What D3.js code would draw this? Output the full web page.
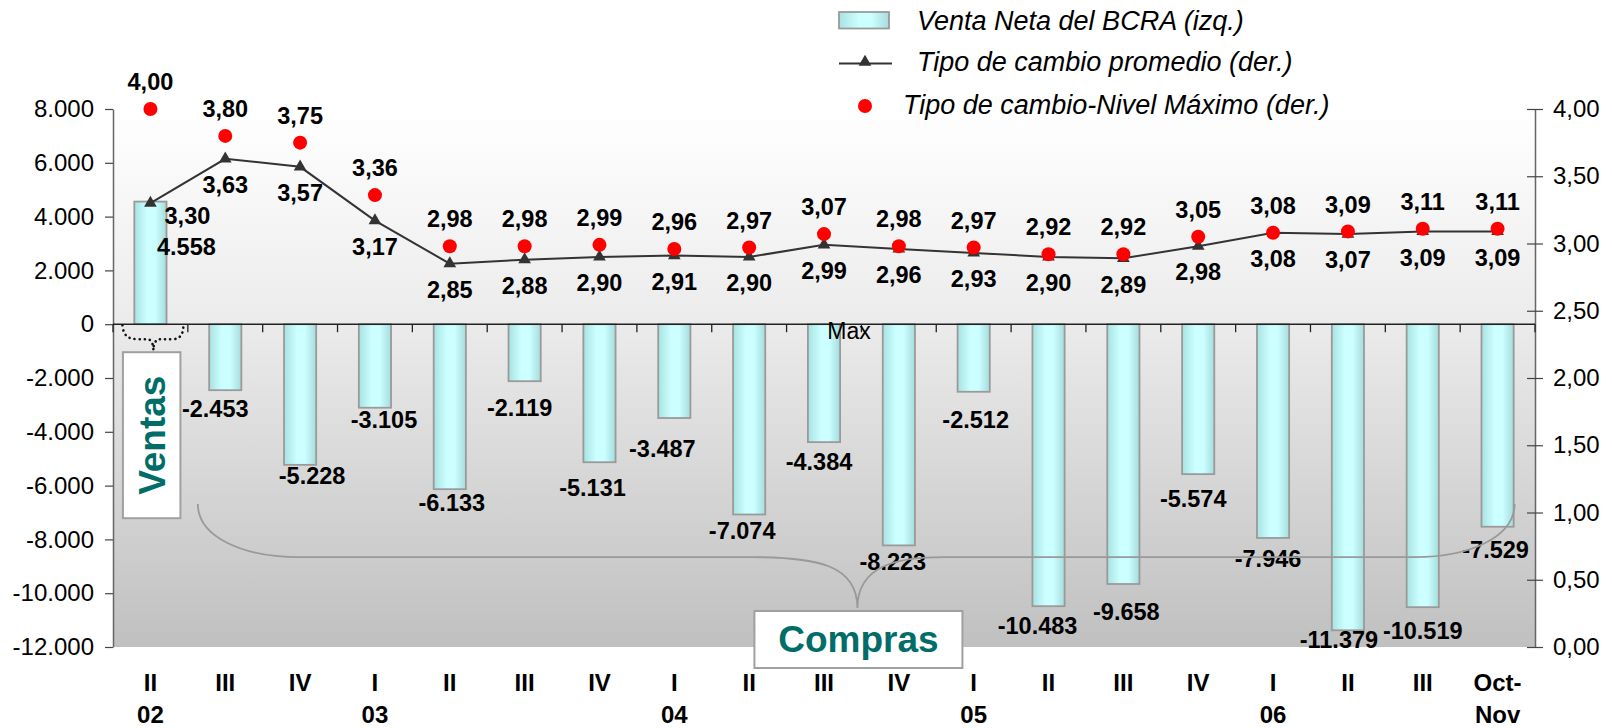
<!DOCTYPE html>
<html>
<head>
<meta charset="utf-8">
<script src="https://cdnjs.cloudflare.com/ajax/libs/d3/7.8.5/d3.min.js"></script>
<style>
  body { margin: 0; background: #fff; }
  svg { display: block; font-family: "Liberation Sans", Arial, sans-serif; }
</style>
</head>
<body>
<svg id="chart" width="1612" height="728"></svg>
<script>
// trimestres y años
const categories = ["II", "III", "IV", "I", "II", "III", "IV", "I", "II", "III", "IV", "I", "II", "III", "IV", "I", "II", "III", "Oct-"];
const yearLabels = ["02", "", "", "03", "", "", "", "04", "", "", "", "05", "", "", "", "06", "", "", "Nov"];

// Venta neta del BCRA (millones US$, eje izq.)
const ventaNeta = [4558, -2453, -5228, -3105, -6133, -2119, -5131, -3487, -7074, -4384, -8223, -2512, -10483, -9658, -5574, -7946, -11379, -10519, -7529];
// tipo de cambio promedio y máximo (eje der.)
const tcPromedio = [3.30, 3.63, 3.57, 3.17, 2.85, 2.88, 2.90, 2.91, 2.90, 2.99, 2.96, 2.93, 2.90, 2.89, 2.98, 3.08, 3.07, 3.09, 3.09];
const tcMaximo = [4.00, 3.80, 3.75, 3.36, 2.98, 2.98, 2.99, 2.96, 2.97, 3.07, 2.98, 2.97, 2.92, 2.92, 3.05, 3.08, 3.09, 3.11, 3.11];

const leftTicks = [-12000, -10000, -8000, -6000, -4000, -2000, 0, 2000, 4000, 6000, 8000];
const rightTicks = [0, 0.5, 1, 1.5, 2, 2.5, 3, 3.5, 4];

const legendItems = ["Venta Neta del BCRA (izq.)", "Tipo de cambio promedio (der.)", "Tipo de cambio-Nivel Máximo (der.)"];

// pequeños ajustes de las etiquetas de barras [dx, dy]
const barLabelNudge = [[36, 45], [-10, 19], [12, 11], [9, 12], [2, 14], [-5, 27], [-7, 26], [-12, 31], [-7, 16], [-5, 20],
  [-6, 16], [2, 28], [-11, 20], [3, 28], [-5, 25], [-5, 21], [-9, 9], [0, 24], [-2, 23]];

const locale = d3.formatLocale({ decimal: ",", thousands: ".", grouping: [3], currency: ["$", ""], minus: "-" });
const fmtMiles = locale.format(",d");
const fmtTc = locale.format(".2f");

const svg = d3.select("#chart");
const plotLeft = 113, plotRight = 1535, plotTop = 109, plotBottom = 647;

const x = d3.scaleBand().domain(d3.range(categories.length)).range([plotLeft, plotRight]).padding(0);
const yL = d3.scaleLinear().domain([-12000, 8000]).range([plotBottom, plotTop]);
const yR = d3.scaleLinear().domain([0, 4]).range([plotBottom, plotTop]);
const cx = i => x(i) + x.bandwidth() / 2;
const barW = x.bandwidth() * 0.43;

const defs = svg.append("defs");
const bg = defs.append("linearGradient").attr("id", "bg").attr("x1", 0).attr("y1", 0).attr("x2", 0).attr("y2", 1);
bg.append("stop").attr("offset", "0%").attr("stop-color", "#ffffff");
bg.append("stop").attr("offset", "40%").attr("stop-color", "#ebebeb");
bg.append("stop").attr("offset", "100%").attr("stop-color", "#c0c0c0");

const barGrad = defs.append("linearGradient").attr("id", "barGrad").attr("x1", 0).attr("y1", 0).attr("x2", 1).attr("y2", 0);
barGrad.append("stop").attr("offset", "0%").attr("stop-color", "#a8e2e2");
barGrad.append("stop").attr("offset", "40%").attr("stop-color", "#ccffff");
barGrad.append("stop").attr("offset", "65%").attr("stop-color", "#ccffff");
barGrad.append("stop").attr("offset", "100%").attr("stop-color", "#a6dcdc");

// fondo del área de gráfico
svg.append("rect")
  .attr("x", plotLeft).attr("y", plotTop)
  .attr("width", plotRight - plotLeft).attr("height", plotBottom - plotTop)
  .attr("fill", "url(#bg)");

// barras
svg.append("g").selectAll("rect")
  .data(ventaNeta)
  .join("rect")
  .attr("x", (d, i) => cx(i) - barW / 2)
  .attr("y", d => yL(Math.max(0, d)))
  .attr("width", barW)
  .attr("height", d => Math.abs(yL(d) - yL(0)))
  .attr("fill", "url(#barGrad)")
  .attr("stroke", "#9a9a9a")
  .attr("stroke-width", 1.8);

// eje izquierdo
const axL = svg.append("g")
  .attr("transform", `translate(${plotLeft},0)`)
  .call(d3.axisLeft(yL).tickValues(leftTicks).tickFormat(fmtMiles).tickSize(8).tickSizeOuter(0).tickPadding(11));
axL.select(".domain").attr("stroke", "#666").attr("stroke-width", 1.5);
axL.selectAll(".tick line").attr("stroke", "#444").attr("stroke-width", 1.2);
axL.selectAll(".tick text").attr("font-size", 24).attr("fill", "#000")
  .attr("font-family", "'Liberation Sans', Arial, sans-serif");

// eje derecho
const axR = svg.append("g")
  .attr("transform", `translate(${plotRight},0)`)
  .call(d3.axisRight(yR).tickValues(rightTicks).tickFormat(fmtTc).tickSize(8).tickSizeOuter(0).tickPadding(10));
axR.select(".domain").attr("stroke", "#666").attr("stroke-width", 1.5);
axR.selectAll(".tick line").attr("x1", -8).attr("stroke", "#444").attr("stroke-width", 1.2);
axR.selectAll(".tick text").attr("font-size", 24).attr("fill", "#000")
  .attr("font-family", "'Liberation Sans', Arial, sans-serif");

// línea del cero con marcas entre categorías
const y0 = yL(0);
svg.append("line")
  .attr("x1", plotLeft).attr("x2", plotRight).attr("y1", y0).attr("y2", y0)
  .attr("stroke", "#222").attr("stroke-width", 1.5);
svg.append("g").selectAll("line")
  .data(d3.range(categories.length + 1))
  .join("line")
  .attr("x1", i => plotLeft + i * x.step()).attr("x2", i => plotLeft + i * x.step())
  .attr("y1", y0).attr("y2", y0 + 8)
  .attr("stroke", "#222").attr("stroke-width", 1.3);

// etiquetas de categorías
const catG = svg.append("g").attr("font-size", 24).attr("font-weight", "bold").attr("text-anchor", "middle");
catG.selectAll("text.q")
  .data(categories)
  .join("text")
  .attr("class", "q")
  .attr("x", (d, i) => cx(i))
  .attr("y", 683).attr("dy", "0.35em")
  .text(d => d);
catG.selectAll("text.yr")
  .data(yearLabels)
  .join("text")
  .attr("class", "yr")
  .attr("x", (d, i) => cx(i))
  .attr("y", 715).attr("dy", "0.35em")
  .text(d => d);

// etiquetas de barras
svg.append("g").attr("font-size", 23.5).attr("font-weight", "bold").attr("text-anchor", "middle")
  .selectAll("text")
  .data(ventaNeta)
  .join("text")
  .attr("x", (d, i) => cx(i) + barLabelNudge[i][0])
  .attr("y", (d, i) => yL(d) + barLabelNudge[i][1])
  .attr("dy", "0.35em")
  .text(d => fmtMiles(d));

// llave punteada "Ventas"
const c0 = cx(0);
svg.append("path")
  .attr("d", `M${c0 - 28},${y0 + 1} C${c0 - 27},${y0 + 12} ${c0 - 22},${y0 + 15} ${c0 - 12},${y0 + 15}
              L${c0 - 2},${y0 + 15} C${c0 + 1},${y0 + 16} ${c0 + 3},${y0 + 20} ${c0 + 3},${y0 + 26}
              C${c0 + 3},${y0 + 20} ${c0 + 5},${y0 + 16} ${c0 + 8},${y0 + 15}
              L${c0 + 22},${y0 + 15} C${c0 + 30},${y0 + 15} ${c0 + 33},${y0 + 10} ${c0 + 33},${y0}`)
  .attr("fill", "none")
  .attr("stroke", "#111")
  .attr("stroke-width", 2.6)
  .attr("stroke-linecap", "round")
  .attr("stroke-dasharray", "0.1,5");

// recuadro "Ventas"
svg.append("rect")
  .attr("x", c0 - 27.5).attr("y", y0 + 28)
  .attr("width", 57.5).attr("height", 166)
  .attr("fill", "#fff").attr("stroke", "#a0a0a0").attr("stroke-width", 2);
svg.append("text")
  .attr("transform", `translate(${c0 + 1.5},${y0 + 111}) rotate(-90)`)
  .attr("text-anchor", "middle").attr("dy", "0.35em")
  .attr("font-size", 37).attr("font-weight", "bold").attr("fill", "#006d68")
  .text("Ventas");

// llave grande "Compras"
const bx0 = x(1) + 10, bx1 = cx(18) + 17;
const tipX = x(10) - 4;
const yTop = yL(-6680), yMid = yL(-8660), yTip = yL(-10550);
svg.append("path")
  .attr("d", `M${bx0},${yTop} C${bx0},${yMid - 20} ${bx0 + 45},${yMid} ${bx0 + 102},${yMid}
              L${tipX - 105},${yMid} C${tipX - 40},${yMid} ${tipX},${yMid + 8} ${tipX},${yTip}
              C${tipX},${yMid + 8} ${tipX + 40},${yMid} ${tipX + 87},${yMid}
              L${bx1 - 100},${yMid} C${bx1 - 45},${yMid} ${bx1},${yMid - 20} ${bx1},${yTop}`)
  .attr("fill", "none")
  .attr("stroke", "#999")
  .attr("stroke-width", 1.8);

svg.append("rect")
  .attr("x", tipX - 103).attr("y", yTip + 3)
  .attr("width", 208).attr("height", 57)
  .attr("fill", "#fff").attr("stroke", "#a0a0a0").attr("stroke-width", 2);
svg.append("text")
  .attr("x", tipX + 1).attr("y", yTip + 31).attr("dy", "0.35em")
  .attr("text-anchor", "middle")
  .attr("font-size", 37).attr("font-weight", "bold").attr("fill", "#006d68")
  .text("Compras");

// texto "Max"
svg.append("text")
  .attr("x", cx(9) + 25).attr("y", y0 + 7).attr("dy", "0.35em")
  .attr("text-anchor", "middle").attr("font-size", 23)
  .text("Max");

// tipo de cambio promedio
const line = d3.line().x((d, i) => cx(i)).y(d => yR(d));
svg.append("path")
  .datum(tcPromedio)
  .attr("d", line)
  .attr("fill", "none")
  .attr("stroke", "#333")
  .attr("stroke-width", 2);
svg.append("g").selectAll("path")
  .data(tcPromedio)
  .join("path")
  .attr("d", d3.symbol(d3.symbolTriangle, 70))
  .attr("transform", (d, i) => `translate(${cx(i)},${yR(d)})`)
  .attr("fill", "#333");

// nivel máximo
svg.append("g").selectAll("circle")
  .data(tcMaximo)
  .join("circle")
  .attr("cx", (d, i) => cx(i))
  .attr("cy", d => yR(d))
  .attr("r", 7)
  .attr("fill", "#ff0000");

// etiquetas de las series de tipo de cambio
svg.append("g").attr("font-size", 23.5).attr("font-weight", "bold").attr("text-anchor", "middle")
  .selectAll("text")
  .data(tcPromedio)
  .join("text")
  .attr("x", (d, i) => cx(i) + (i === 0 ? 37 : 0))
  .attr("y", (d, i) => yR(d) + (i === 0 ? 13 : 26))
  .attr("dy", "0.35em")
  .text(d => fmtTc(d));
svg.append("g").attr("font-size", 23.5).attr("font-weight", "bold").attr("text-anchor", "middle")
  .selectAll("text")
  .data(tcMaximo)
  .join("text")
  .attr("x", (d, i) => cx(i))
  .attr("y", d => yR(d) - 27)
  .attr("dy", "0.35em")
  .text(d => fmtTc(d));

// leyenda
const lg = svg.append("g").attr("font-size", 27).attr("font-style", "italic");
lg.append("rect")
  .attr("x", 839).attr("y", 12).attr("width", 50).attr("height", 16.5)
  .attr("fill", "url(#barGrad)").attr("stroke", "#9a9a9a").attr("stroke-width", 1.8);
lg.append("text").attr("x", 917).attr("y", 29.5).text(legendItems[0]);
lg.append("line")
  .attr("x1", 839).attr("x2", 892).attr("y1", 63.5).attr("y2", 63.5)
  .attr("stroke", "#333").attr("stroke-width", 2);
lg.append("path")
  .attr("d", d3.symbol(d3.symbolTriangle, 70))
  .attr("transform", "translate(865,62)")
  .attr("fill", "#333");
lg.append("text").attr("x", 917).attr("y", 70.5).text(legendItems[1]);
lg.append("circle").attr("cx", 865).attr("cy", 106).attr("r", 7).attr("fill", "#ff0000");
lg.append("text").attr("x", 903).attr("y", 114).text(legendItems[2]);
</script>
</body>
</html>
